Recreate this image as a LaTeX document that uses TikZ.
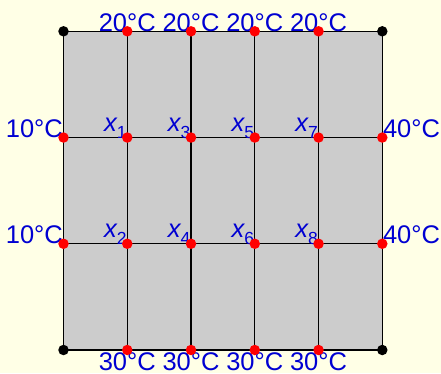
\documentclass[tikz,border=0pt]{standalone}
\usepackage{fontspec}
\setmainfont{Liberation Sans}
\definecolor{bg}{RGB}{255,255,230}
\definecolor{cell}{RGB}{204,204,204}
\definecolor{lbl}{RGB}{0,0,210}
\newcommand\myxsub[1]{{\itshape x}\raisebox{-7pt}{\fontsize{17.5}{17.5}\selectfont #1}}
\tikzset{
  gridline/.style={draw=black,line width=1.4pt},
  tlabel/.style={text=lbl,inner sep=0pt,font=\fontsize{25.5}{30}\selectfont},
  reddot/.style={circle,fill=red,inner sep=0pt,minimum size=10.5pt},
  blackdot/.style={circle,fill=black,inner sep=0pt,minimum size=10.5pt}
}
\begin{document}
\begin{tikzpicture}[x=63.76pt,y=-106.23pt]
\fill[bg] (-63.5pt,31.3pt) rectangle (377.5pt,-341.7pt);
\useasboundingbox (-63.5pt,31.3pt) rectangle (377.5pt,-341.7pt);
\foreach \i in {0,...,5}{\foreach \j in {0,...,3}{\coordinate (p-\i-\j) at (\i,\j);}}
\fill[cell] (p-0-0) rectangle (p-5-3);
\foreach \i in {0,...,5}{\draw[gridline] (p-\i-0) -- (p-\i-3);}
\foreach \j in {0,...,3}{\draw[gridline] (p-0-\j) -- (p-5-\j);}
% labels
\foreach \i in {1,...,4}{
  \node[tlabel,anchor=base] (top\i) at (p-\i-0) {20°C};
  \node[tlabel,anchor=base,yshift=-20.5pt] (bot\i) at (p-\i-3) {30°C};
}
\foreach \j in {1,2}{
  \node[tlabel,anchor=base east,xshift=-0.5pt] (left\j) at (p-0-\j) {10°C};
  \node[tlabel,anchor=base west,xshift=0.5pt] (right\j) at (p-5-\j) {40°C};
}
\foreach \i in {1,...,4}{\foreach \j in {1,2}{
  \pgfmathtruncatemacro\k{2*(\i-1)+\j}
  \node[tlabel,anchor=base east,xshift=-0.5pt,yshift=6pt] (x\k) at (p-\i-\j) {\myxsub{\k}};
}}
% dots
\foreach \i in {1,...,4}{
  \node[reddot] (d-\i-0) at (p-\i-0) {};
  \node[reddot] (d-\i-3) at (p-\i-3) {};
}
\foreach \i in {0,...,5}{\foreach \j in {1,2}{\node[reddot] (d-\i-\j) at (p-\i-\j) {};}}
\foreach \c in {0-0,5-0,0-3,5-3}{\node[blackdot] (d-\c) at (p-\c) {};}
\end{tikzpicture}
\end{document}
